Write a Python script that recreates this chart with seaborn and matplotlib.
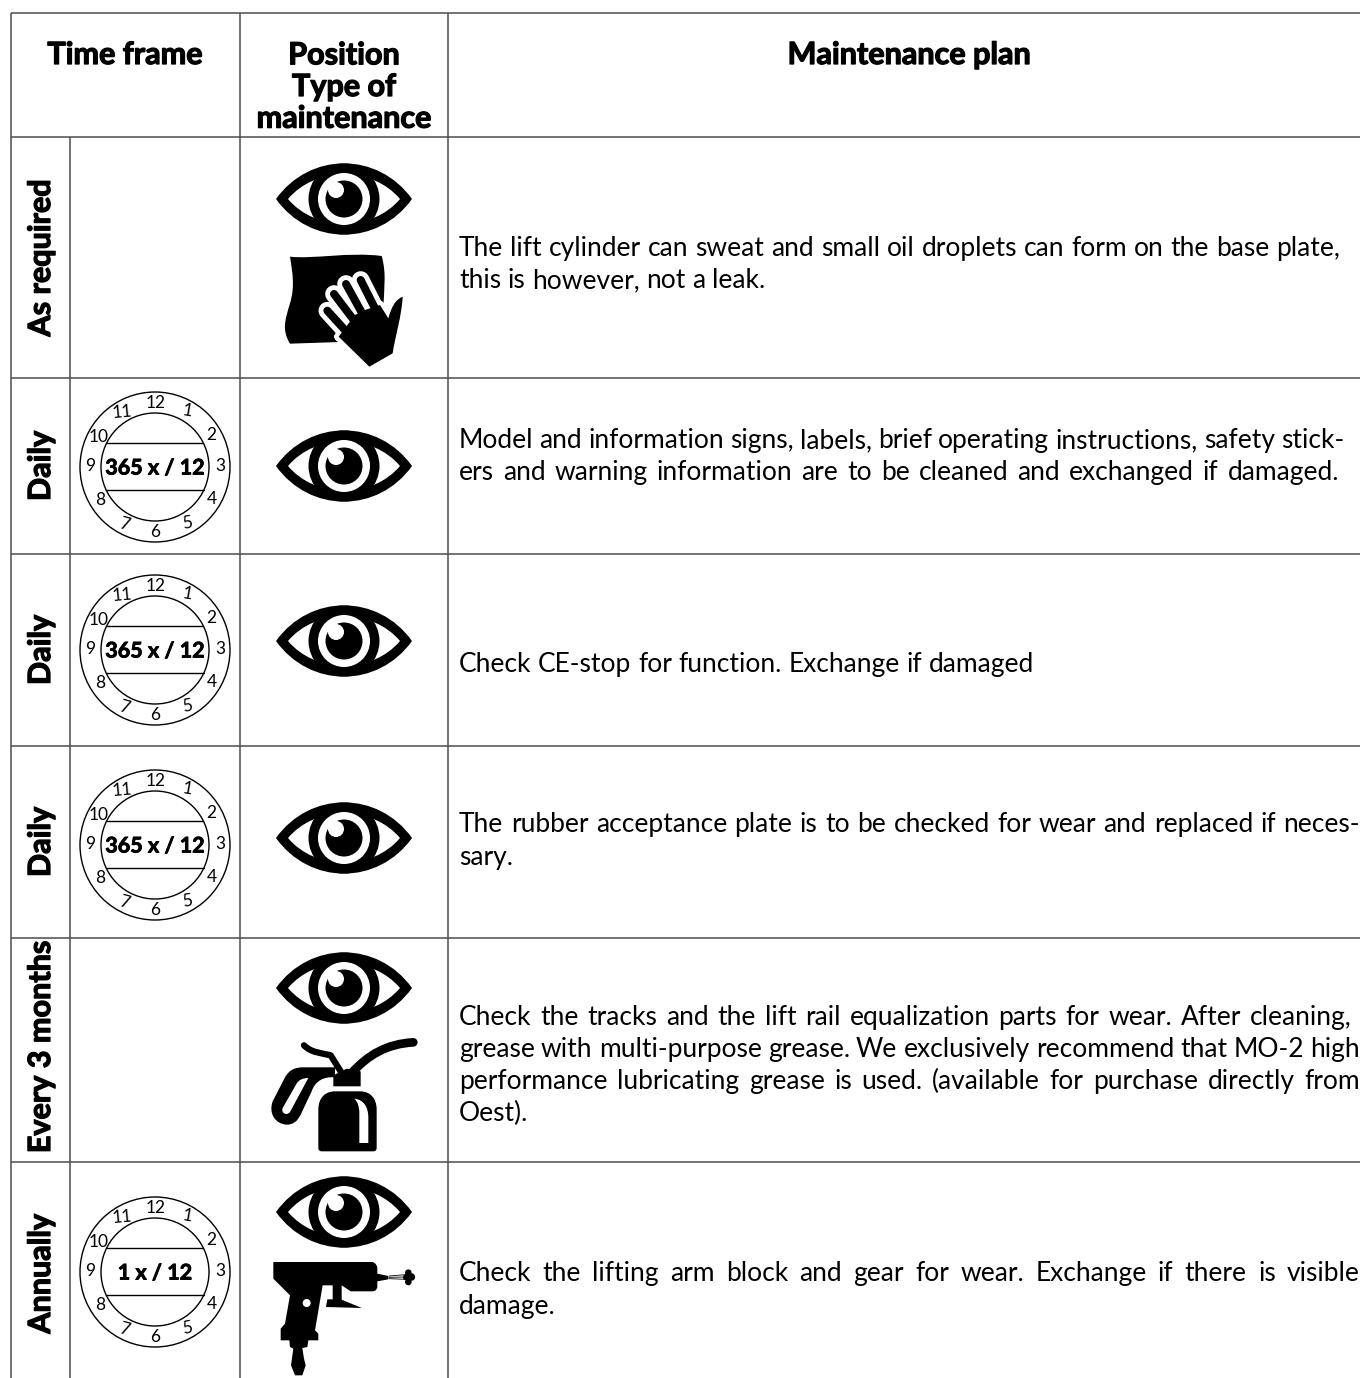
# maintenance table
import matplotlib
matplotlib.use('Agg')
import matplotlib.pyplot as plt
import matplotlib.patheffects as pe
import seaborn as sns
from matplotlib.path import Path
from matplotlib.patches import PathPatch, Circle

# --- table content ---
headers = ['Time frame', 'Position\nType of\nmaintenance', 'Maintenance plan']
time_frames = ['As required', 'Daily', 'Daily', 'Daily', 'Every 3 months', 'Annually']
clock_counts = [None, '365 x / 12', '365 x / 12', '365 x / 12', None, '1 x / 12']
icons = [['eye', 'wipe'], ['eye'], ['eye'], ['eye'], ['eye', 'oil'], ['eye', 'gun']]
plan_lines = [
    ['The lift cylinder can sweat and small oil droplets can form on the base plate,',
     'this is however, not a leak.'],
    ['Model and information signs, labels, brief operating instructions, safety stick-',
     'ers and warning information are to be cleaned and exchanged if damaged.'],
    ['Check CE-stop for function. Exchange if damaged'],
    ['The rubber acceptance plate is to be checked for wear and replaced if neces-',
     'sary.'],
    ['Check the tracks and the lift rail equalization parts for wear. After cleaning,',
     'grease with multi-purpose grease. We exclusively recommend that MO-2 high',
     'performance lubricating grease is used. (available for purchase directly from',
     'Oest).'],
    ['Check the lifting arm block and gear for wear. Exchange if there is visible',
     'damage.'],
]
months = ['12', '1', '2', '3', '4', '5', '6', '7', '8', '9', '10', '11']

# --- layout in pixels ---
row_edges = [137, 378, 554, 746, 938, 1162]
col_edges = [70, 240, 448]
line_ends = [[1340, 765], [1344, 1339], [1034], [1360, 516], [1352, 1360, 1360, 528], [1360, 551]]
line_ys = [[246, 278], [438, 470], [662], [822, 855], [1015, 1047, 1079, 1111], [1271, 1304]]
clock_ys = [None, 467, 650, 845, None, 1272]
label_ys = [258, 466, 650, 842, 1047, 1274]
eye_ys = [199, 466, 641, 838, 988, 1212]
month_pos = [(1, -64), (32, -56), (56, -32), (65, -1), (57, 32), (32, 56), (0, 65), (-31, 57),
             (-55, 33), (-65, -1), (-56, -30), (-33, -55)]
month_rot = [0, -10, 0, 0, 0, 10, 0, -15, 0, 0, 0, 5]

BODY = 'Lato'

sns.set_theme(style='white')
plt.rcParams['font.family'] = [BODY, 'DejaVu Sans']

fig, ax = plt.subplots(figsize=(13.6, 13.78), dpi=100)
ax.set_position([0, 0, 1, 1])
ax.set_xlim(0, 1360)
ax.set_ylim(1378, 0)
ax.axis('off')
sns.despine(ax=ax, left=True, bottom=True)

heavy = [pe.withStroke(linewidth=0.9, foreground='black')]


def make_path(d, ox, oy):
    # small svg style path, coordinates are 3x zoom pixels from the origin ox, oy
    cmds = {'M': (Path.MOVETO, 1), 'L': (Path.LINETO, 1), 'C': (Path.CURVE4, 3)}
    verts, codes = [], []
    tok = d.split()
    i = 0
    while i < len(tok):
        c = tok[i]
        i += 1
        if c == 'Z':
            verts.append(verts[-1])
            codes.append(Path.CLOSEPOLY)
            continue
        code, n = cmds[c]
        for _ in range(n):
            verts.append((ox + float(tok[i]) / 3, oy + float(tok[i + 1]) / 3))
            codes.append(code)
            i += 2
    return Path(verts, codes)


def shape(d, ox, oy, color='black', z=3):
    ax.add_patch(PathPatch(make_path(d, ox, oy), fc=color, ec='none', zorder=z))


def stroke(d, ox, oy, width, color='black', z=3):
    ax.add_patch(PathPatch(make_path(d, ox, oy), fc='none', ec=color, lw=width * 0.72 / 3,
                           capstyle='round', joinstyle='round', zorder=z))


def draw_eye(cy, cx=344):
    for sx, c, z, s in [(68, 'black', 3, 47.5), (56, 'white', 4, 33)]:
        pts = [(cx - sx, cy), (cx - sx * .5, cy - s), (cx + sx * .5, cy - s), (cx + sx, cy),
               (cx + sx * .5, cy + s), (cx - sx * .5, cy + s), (cx - sx, cy), (cx - sx, cy)]
        ax.add_patch(PathPatch(Path(pts, [Path.MOVETO] + [Path.CURVE4] * 6 + [Path.CLOSEPOLY]),
                               fc=c, ec='none', zorder=z))
    for off, r, c, z in [((0, 0), 35.5, 'black', 5), ((0, 0), 26, 'white', 6),
                         ((0, 0), 18.5, 'black', 7), ((-8, -9), 8, 'white', 8)]:
        ax.add_patch(Circle((cx + off[0], cy + off[1]), r, fc=c, ec='none', zorder=z))


def draw_wipe(ox=240, oy=140):
    shape('M 150 350 C 220 358 330 335 425 348 C 440 400 432 450 430 500 L 300 606 L 150 611 '
          'C 125 570 135 540 150 490 C 165 440 158 400 150 350 Z', ox, oy)
    fingers = [('M 262 512 L 322 578', 27), ('M 282 462 L 345 545', 27),
               ('M 318 432 L 372 530', 27), ('M 362 420 L 420 535', 27)]
    for d, w in fingers:
        stroke(d, ox, oy, w + 26, 'white', 4)
    palm = 'M 296 590 L 345 525 L 375 510 L 420 495 L 445 535 C 455 500 465 480 488 470 C 485 530 465 590 458 640 L 388 680 Z'
    stroke(palm.replace('Z', 'L 296 590'), ox, oy, 26, 'white', 4)
    shape(palm, ox, oy, z=5)
    for d, w in fingers:
        stroke(d, ox, oy, w - 3, 'black', 5)


def draw_oil(ox=240, oy=938):
    shape('M 235 630 L 235 515 C 235 480 255 460 285 460 L 360 460 C 390 460 410 480 410 515 L 410 630 '
          'C 410 636 406 640 400 640 L 245 640 C 239 640 235 636 235 630 Z', ox, oy)
    shape('M 343 482 C 370 485 385 505 385 540 L 385 615 L 358 615 L 358 525 C 358 505 352 490 343 482 Z', ox, oy, 'white', 4)
    shape('M 280 412 L 280 445 L 362 445 L 362 400 L 320 392 Z', ox, oy)
    stroke('M 335 405 C 385 350 440 318 520 313', ox, oy, 26)
    stroke('M 192 322 C 215 345 245 345 272 352 L 305 405', ox, oy, 19)
    shape('M 285 388 L 190 388 C 165 388 148 395 135 418 L 98 490 C 85 525 105 558 140 560 '
          'C 160 560 172 550 182 530 L 215 460 C 225 430 250 415 285 418 Z', ox, oy)
    shape('M 205 420 C 190 420 175 425 168 440 L 128 510 C 122 525 140 535 150 522 Z', ox, oy, 'white', 4)


def draw_gun(ox=240, oy=1162):
    shape('M 100 300 L 395 300 C 405 300 412 310 412 320 L 412 335 L 445 342 L 445 352 L 412 358 L 412 375 '
          'C 410 384 405 388 398 388 L 332 388 L 305 370 L 305 413 L 365 438 L 258 435 L 262 412 L 278 412 L 278 370 '
          'L 248 370 L 225 505 L 235 515 L 235 535 L 205 535 L 202 555 L 187 558 L 192 590 L 197 610 L 187 640 '
          'L 165 640 L 153 610 L 160 560 L 150 555 L 148 535 L 122 535 L 122 500 L 135 485 L 150 400 L 100 350 Z', ox, oy)
    ax.add_patch(Circle((ox + 200 / 3, oy + 423 / 3), 4, fc='white', ec='none', zorder=4))
    for y0, y1 in [(342, 338), (346, 345), (350, 352)]:
        stroke(f'M 447 {y0} L 497 {y1}', ox, oy, 2.5)
    for x, y, r in [(505, 332, 3.3), (514, 345, 3.8), (505, 360, 3.3), (498, 346, 3)]:
        ax.add_patch(Circle((ox + x / 3, oy + y / 3), r, fc='black', ec='none', zorder=3))


def draw_clock(cy, label, cx=155):
    for r in (75, 54):
        ax.add_patch(Circle((cx, cy), r, fc='none', ec='black', lw=1.0, zorder=3))
    for dy in (-24, 23):
        half = (54 ** 2 - dy ** 2) ** 0.5
        ax.plot([cx - half, cx + half], [cy + dy, cy + dy], color='black', lw=1.0, zorder=3)
    ax.text(cx, cy + 1, label, ha='center', va='center', fontsize=15.5, fontweight='bold',
            color='black', zorder=4, path_effects=[pe.withStroke(linewidth=0.6, foreground='black')])
    for m, (dx, dy), rot in zip(months, month_pos, month_rot):
        ax.text(cx + dx, cy + dy, m, ha='center', va='center', fontsize=12.5,
                rotation=rot, color='black', zorder=4)


def justified(text, y, x0, x1):
    # one line set word by word, so that it runs from x0 to x1 like the printed page
    rend = fig.canvas.get_renderer()
    words = text.split()
    items = [ax.text(x0, y, w, ha='left', va='center_baseline', fontsize=19, color='black') for w in words]
    widths = [t.get_window_extent(rend).width for t in items]
    gap = (x1 - x0 - sum(widths)) / max(len(words) - 1, 1)
    x = x0
    for t, w in zip(items, widths):
        t.set_x(x)
        x += w + gap


# grid
line_kw = dict(color='#4d4d4d', lw=1.1, zorder=2)
ax.hlines([13] + row_edges, 11, 1360, **line_kw)
ax.vlines([11, col_edges[1], col_edges[2]], 13, 1378, **line_kw)
ax.vlines(col_edges[0], row_edges[0], 1378, **line_kw)

# header
head_kw = dict(ha='center', va='center', fontsize=22, fontweight='bold', color='black', path_effects=heavy)
ax.text(125, 55, headers[0], **head_kw)
ax.text(344, 87, headers[1], linespacing=1.16, **head_kw)
ax.text(909, 55, headers[2], **head_kw)

# rows
for i, label in enumerate(time_frames):
    ax.text(41, label_ys[i], label, rotation=90, ha='center', va='center',
            fontsize=22, fontweight='bold', color='black', path_effects=heavy)
    if clock_counts[i]:
        draw_clock(clock_ys[i], clock_counts[i])
    draw_eye(eye_ys[i])
    for icon in icons[i][1:]:
        {'wipe': draw_wipe, 'oil': draw_oil, 'gun': draw_gun}[icon]()
    for text, y, x1 in zip(plan_lines[i], line_ys[i], line_ends[i]):
        justified(text, y, 459, x1)

fig.savefig('out.png', dpi=100)
plt.close(fig)
